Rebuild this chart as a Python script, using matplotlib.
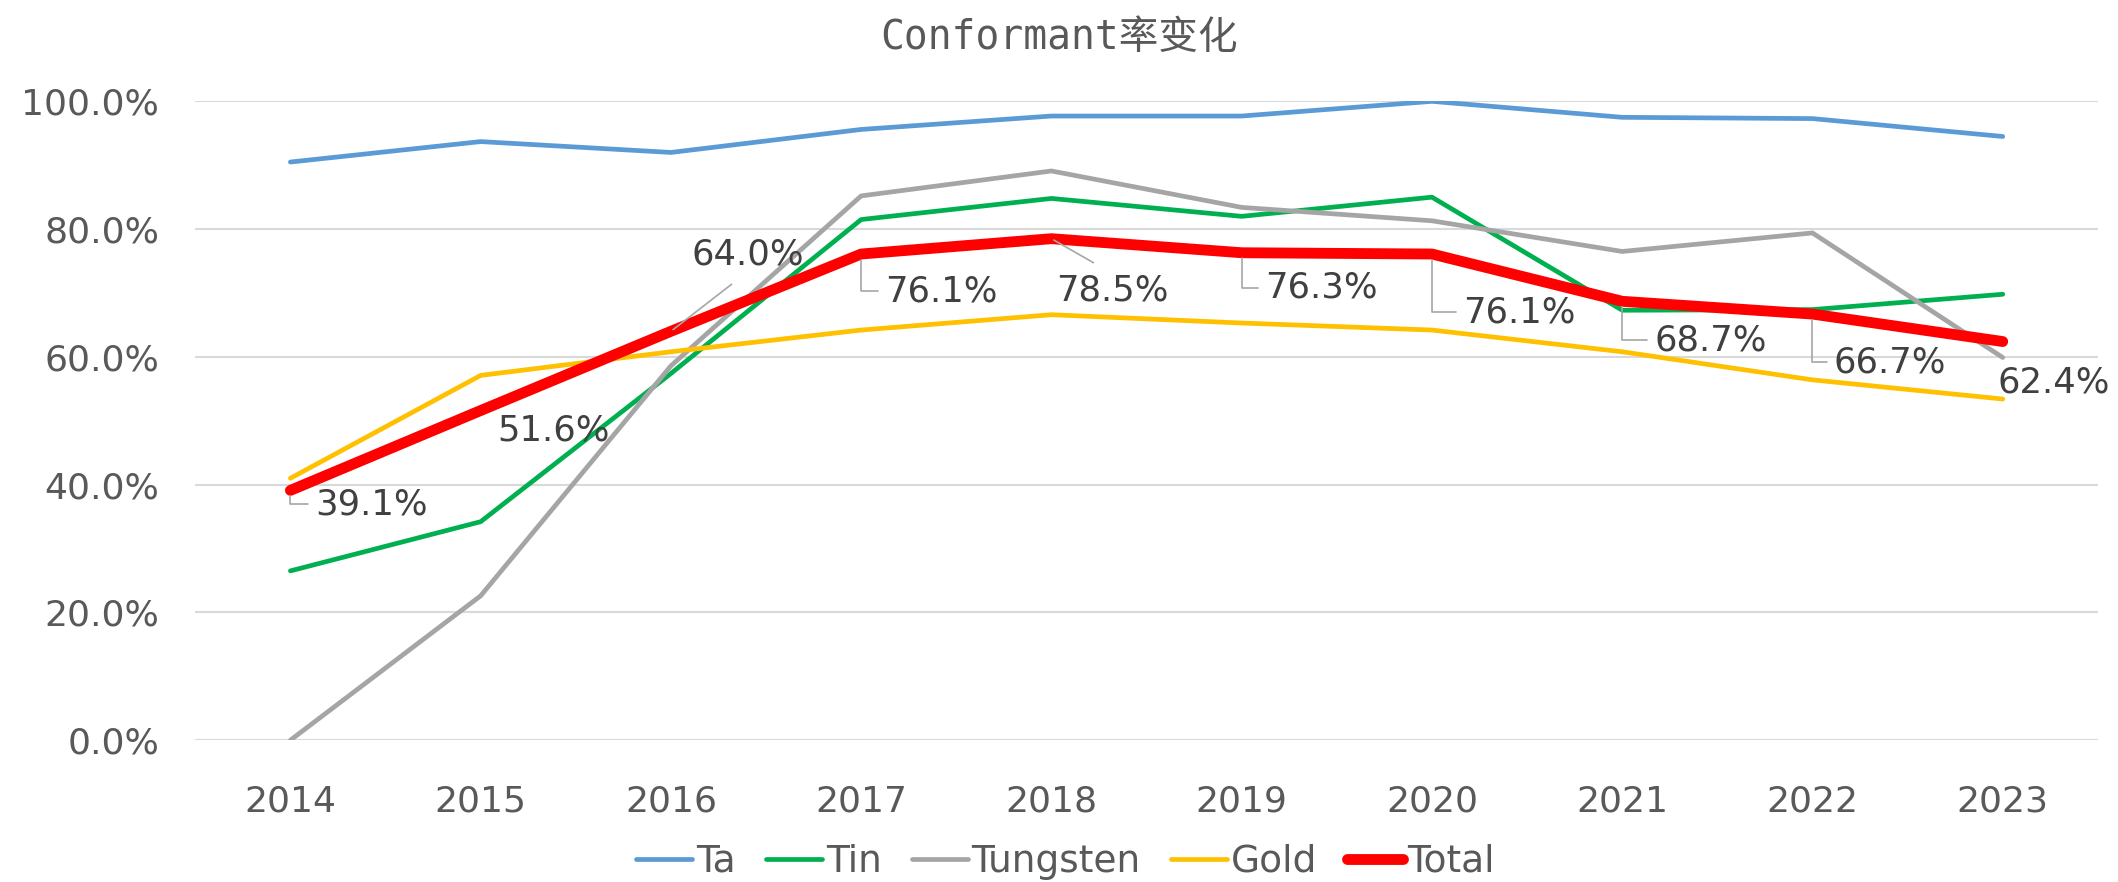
import numpy as np
import matplotlib
matplotlib.use('Agg')
import matplotlib.pyplot as plt
from matplotlib.ticker import PercentFormatter

plt.rcParams['font.family'] = ['DejaVu Sans', 'Noto Sans CJK SC']

years = ['2014', '2015', '2016', '2017', '2018', '2019', '2020', '2021', '2022', '2023']
ta = [90.5, 93.7, 92.0, 95.6, 97.7, 97.7, 100.0, 97.5, 97.3, 94.5]
tin = [26.5, 34.2, 57.4, 81.5, 84.8, 82.0, 85.0, 67.3, 67.4, 69.8]
tungsten = [0.0, 22.6, 58.6, 85.2, 89.1, 83.4, 81.3, 76.5, 79.4, 59.9]
gold = [41.0, 57.1, 60.8, 64.2, 66.6, 65.3, 64.2, 60.8, 56.4, 53.4]
total = [39.1, 51.6, 64.0, 76.1, 78.5, 76.3, 76.1, 68.7, 66.7, 62.4]

title = 'Conformant率变化'

# label offsets (pixels) and leader style per Total point
label_dx = [25, 17, 21, 24, 5, 23, 31, 32, 21, -5]
label_dy = [-14, -20, 77, -37, -52, -35, -58, -39, -48, -41]
leader = ['angle', None, 'top', 'angle', 'top', 'angle', 'angle', 'angle', 'angle', None]

fig = plt.figure(figsize=(21.18, 8.82), dpi=100)
ax = fig.add_axes([0.0922, 0.1608, 0.8983, 0.7243])

x = np.arange(len(years))
ax.plot(x, ta, color='#5B9BD5', lw=3.4, solid_capstyle='round', label='Ta', zorder=3)
ax.plot(x, tin, color='#00B050', lw=3.4, solid_capstyle='round', label='Tin', zorder=3)
ax.plot(x, tungsten, color='#A5A5A5', lw=3.4, solid_capstyle='round', label='Tungsten', zorder=3)
ax.plot(x, gold, color='#FFC000', lw=3.4, solid_capstyle='round', label='Gold', zorder=3)
ax.plot(x, total, color='#FF0000', lw=7.8, solid_capstyle='round', label='Total', zorder=4)

for i, v in enumerate(total):
    kw = dict(xy=(x[i], v), xytext=(label_dx[i], label_dy[i]), textcoords='offset pixels',
              ha='left', va='center', fontsize=25.5, color='#404040', zorder=5)
    if leader[i] == 'angle':
        kw['arrowprops'] = dict(arrowstyle='-', color='#A6A6A6', lw=1.2, relpos=(0, 0.5),
                                connectionstyle='angle,angleA=0,angleB=90,rad=0',
                                shrinkA=3, shrinkB=4)
    elif leader[i] == 'top':
        kw['arrowprops'] = dict(arrowstyle='-', color='#A6A6A6', lw=1.2, relpos=(0.5, 0),
                                shrinkA=12, shrinkB=2)
        if label_dy[i] < 0:
            kw['arrowprops']['relpos'] = (0.5, 1)
    ax.annotate(f'{v:.1f}%', **kw)

ax.set_xlim(-0.5, len(years) - 0.5)
ax.set_ylim(0, 100)
ax.set_xticks(x)
ax.set_xticklabels(years)
ax.set_yticks(np.arange(0, 101, 20))
ax.yaxis.set_major_formatter(PercentFormatter(decimals=1))
ax.tick_params(axis='both', length=0, labelsize=26, colors='#595959')
ax.tick_params(axis='x', pad=32)
ax.tick_params(axis='y', pad=26)
ax.grid(axis='y', color='#D9D9D9', lw=1.5)
ax.set_axisbelow(True)
for s in ax.spines.values():
    s.set_visible(False)

fig.text(0.5, 0.957, title, ha='center', va='center', fontsize=28.5, color='#595959',
         family=['DejaVu Sans Mono', 'Noto Sans CJK SC'])

fig.legend(loc='center', bbox_to_anchor=(0.503, 0.023), ncol=5, frameon=False,
           fontsize=27, handlelength=1.5, handletextpad=0.1, columnspacing=0.8,
           labelcolor='#595959')

fig.savefig('out.png', dpi=100)
